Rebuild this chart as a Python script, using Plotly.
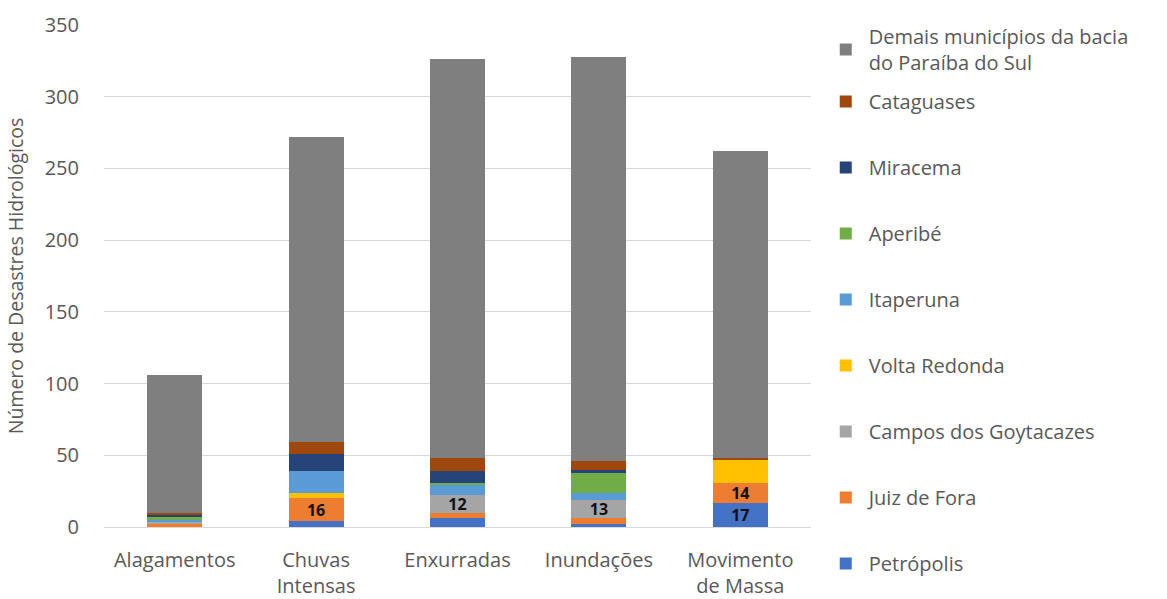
import plotly.graph_objects as go

categorias = ["Alagamentos", "Chuvas<br>Intensas", "Enxurradas", "Inundações", "Movimento<br>de Massa"]

# Ocorrências por município (empilhadas de baixo para cima)
petropolis = [0, 4, 6, 2, 17]
juiz_de_fora = [2, 16, 4, 4, 14]
campos = [2, 0, 12, 13, 0]
volta_redonda = [0, 4, 0, 0, 16]
itaperuna = [1, 15, 7, 5, 0]
aperibe = [2, 0, 2, 14, 0]
miracema = [2, 12, 8, 2, 0]
cataguases = [1, 8, 9, 6, 1]
demais = [96, 213, 278, 282, 214]

# Rótulos exibidos apenas nos segmentos destacados
rotulos_jf = ["", "16", "", "", "14"]
rotulos_campos = ["", "", "12", "13", ""]
rotulos_petropolis = ["", "", "", "", "17"]

series = [
    ("Petrópolis", petropolis, "#4472C4", rotulos_petropolis),
    ("Juiz de Fora", juiz_de_fora, "#ED7D31", rotulos_jf),
    ("Campos dos Goytacazes", campos, "#A5A5A5", rotulos_campos),
    ("Volta Redonda", volta_redonda, "#FFC000", None),
    ("Itaperuna", itaperuna, "#5B9BD5", None),
    ("Aperibé", aperibe, "#70AD47", None),
    ("Miracema", miracema, "#264478", None),
    ("Cataguases", cataguases, "#9E480E", None),
]

FONTE = "Open Sans"
CINZA_TXT = "#595959"
TAM = 20

fig = go.Figure()
n = len(series)
for i, (nome, valores, cor, rotulos) in enumerate(series):
    fig.add_trace(go.Bar(
        x=categorias, y=valores, name=nome,
        marker=dict(color=cor, line=dict(width=0)),
        text=rotulos if rotulos else None,
        textposition="inside" if rotulos else "none",
        insidetextanchor="middle",
        textangle=0,
        insidetextfont=dict(family="Open Sans", size=16, color="#111111", weight="bold"),
        legend="legend2",
        legendgroup=f"g{i}",
        legendrank=100 * (n - i),
        hoverinfo="x+y+name",
    ))

fig.add_trace(go.Bar(
    x=categorias, y=demais, name="Demais municípios da bacia<br>do Paraíba do Sul",
    marker=dict(color="#7F7F7F", line=dict(width=0)),
    textposition="none",
    legend="legend",
))

legenda_fonte = dict(family=FONTE, size=TAM, color=CINZA_TXT)

fig.update_layout(
    barmode="stack",
    bargap=0.61,
    showlegend=True,
    uniformtext=dict(minsize=16, mode="show"),
    width=1167, height=599,
    margin=dict(l=104, r=356, t=25, b=72),
    paper_bgcolor="white",
    plot_bgcolor="white",
    font=dict(family=FONTE, size=TAM, color=CINZA_TXT),
    legend=dict(
        xref="container", yref="container",
        x=0.705, y=1 - 17 / 599, xanchor="left", yanchor="top",
        font=legenda_fonte, bgcolor="rgba(0,0,0,0)",
        itemwidth=36,
        itemclick=False,
    ),
    legend2=dict(
        xref="container", yref="container",
        x=0.705, y=1 - 82 / 599, xanchor="left", yanchor="top",
        font=legenda_fonte, bgcolor="rgba(0,0,0,0)",
        traceorder="grouped",
        tracegroupgap=37,
        itemwidth=36,
        maxheight=560,
        itemclick=False,
    ),
    xaxis=dict(
        showline=True, linecolor="#D9D9D9", linewidth=1,
        ticks="", ticklabelstandoff=15, automargin=False,
        tickfont=dict(family=FONTE, size=TAM, color=CINZA_TXT),
    ),
    yaxis=dict(
        range=[0, 350], dtick=50,
        showgrid=True, gridcolor="#D9D9D9", gridwidth=1,
        zeroline=False, ticks="", automargin=False,
        tickfont=dict(family=FONTE, size=TAM, color=CINZA_TXT),
        ticklabelstandoff=24,
        title=dict(text="Número de Desastres Hidrológicos",
                   font=dict(family=FONTE, size=19.5, color=CINZA_TXT), standoff=15),
    ),
)

fig.write_html("out.html")
